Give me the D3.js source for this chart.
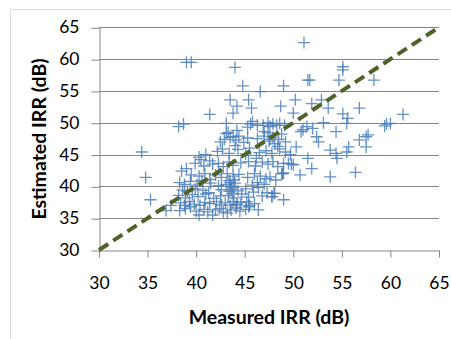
<!DOCTYPE html>
<html>
<head>
<meta charset="utf-8">
<script src="https://cdn.jsdelivr.net/npm/d3@7"></script>
<style>
  html, body { margin: 0; padding: 0; background: #fff; }
  svg { display: block; }
</style>
</head>
<body>
<div id="chart"></div>
<script>
// [measured IRR (dB), estimated IRR (dB)]
const sparsePoints = [
  [34.4, 45.4], [34.8, 41.4], [35.3, 37.9], [36.9, 36.2], [37.4, 37.0],
  [39.0, 59.5], [39.5, 59.5], [38.2, 49.4], [38.7, 49.8], [41.4, 51.3],
  [44.0, 58.7], [44.8, 55.8], [43.5, 53.6], [44.2, 52.6], [45.4, 53.6],
  [45.7, 52.3], [46.6, 54.9], [49.0, 55.8], [48.7, 52.6], [50.2, 53.6],
  [50.0, 51.5], [51.1, 62.6], [51.5, 56.7], [51.7, 56.7], [51.9, 53.0],
  [52.9, 53.6], [53.6, 52.3], [54.7, 56.7], [55.1, 58.8], [55.1, 58.3],
  [58.3, 56.7], [56.8, 52.3], [55.1, 51.4], [55.6, 50.7], [55.5, 49.9],
  [61.3, 51.3], [59.6, 49.8], [60.0, 49.9], [59.4, 49.5], [56.8, 47.3],
  [57.5, 47.8], [57.7, 48.1], [57.5, 46.2], [55.7, 46.2], [55.5, 45.4],
  [54.4, 45.2], [54.5, 44.4], [53.8, 45.7], [56.4, 42.2], [53.8, 41.5],
  [54.4, 48.6], [53.1, 50.0], [52.4, 47.8], [52.6, 47.0], [52.0, 49.1],
  [51.4, 49.4], [50.8, 48.6], [51.0, 48.9], [51.9, 42.8], [51.5, 44.4],
  [50.7, 41.8], [50.3, 46.2], [43.8, 51.5], [43.1, 49.9]
];
const upperCluster = [
  [45.6, 49.8], [45.3, 49.3], [45.8, 50.2], [46.3, 49.6], [46.9, 49.6],
  [47.4, 50.0], [47.6, 49.4], [47.9, 49.8], [48.3, 49.6], [48.6, 49.9],
  [49.1, 49.6], [43.5, 47.7], [44.1, 47.3], [44.4, 47.9], [44.9, 46.9],
  [45.3, 47.6], [46.3, 47.5], [47.0, 47.9], [47.5, 47.1], [48.5, 47.4],
  [48.8, 48.2], [49.2, 47.0], [42.5, 47.0], [43.1, 48.3], [42.2, 45.5],
  [42.7, 45.9], [43.4, 45.2], [44.3, 45.8], [45.1, 45.1], [45.5, 46.0],
  [46.5, 45.3], [47.2, 45.6], [47.8, 45.2], [48.6, 45.9], [49.2, 45.4],
  [49.7, 45.0], [47.0, 48.6], [47.4, 48.4], [47.6, 47.4], [48.1, 46.7],
  [48.4, 46.3], [47.9, 47.7], [44.0, 46.4], [43.8, 47.8], [44.2, 48.8],
  [43.3, 48.5], [42.9, 47.4], [40.3, 44.6], [41.0, 45.0], [40.8, 43.2],
  [39.9, 43.6], [40.5, 44.2], [41.4, 44.0], [41.7, 43.5], [42.3, 43.6],
  [42.8, 43.1], [43.4, 43.8], [43.8, 43.3], [44.6, 43.7], [45.4, 43.9],
  [46.1, 43.2], [46.8, 43.8], [47.4, 43.5], [47.9, 43.9], [48.4, 43.1],
  [49.0, 43.6], [49.8, 43.5], [50.0, 43.4], [49.5, 43.6], [46.2, 44.4]
];
const middleCluster = [
  [38.5, 42.4], [39.0, 42.8], [39.5, 41.8], [40.3, 41.6], [40.9, 42.0],
  [41.4, 41.1], [42.0, 41.8], [42.6, 41.4], [43.2, 42.0], [43.8, 41.6],
  [44.4, 41.9], [45.3, 41.4], [46.0, 42.0], [46.6, 41.6], [47.2, 41.2],
  [47.6, 41.5], [48.2, 41.0], [48.9, 42.0], [49.0, 42.1], [48.8, 42.0],
  [38.3, 40.6], [38.8, 40.3], [39.4, 40.8], [40.1, 40.2], [40.6, 40.9],
  [41.5, 40.5], [42.3, 40.1], [43.1, 40.3], [43.6, 40.0], [44.0, 40.5],
  [45.8, 40.2], [46.3, 40.6], [47.0, 40.3], [43.5, 40.6], [43.4, 40.9],
  [43.9, 41.0], [38.6, 39.4], [39.1, 39.2], [39.9, 39.6], [40.7, 39.4],
  [41.3, 39.0], [42.6, 39.5], [43.4, 39.2], [43.8, 39.8], [44.3, 39.3],
  [45.1, 39.6], [45.9, 39.1], [46.4, 39.8], [47.3, 39.0], [43.6, 39.5],
  [43.7, 38.9], [38.2, 38.6], [38.9, 38.2], [39.6, 38.7], [40.2, 38.4],
  [41.0, 38.8], [41.8, 38.1], [42.5, 38.5], [43.3, 38.6], [43.9, 38.2],
  [44.7, 38.8], [45.4, 38.3], [46.8, 38.5], [47.8, 38.4], [48.1, 38.9],
  [49.0, 37.9], [48.0, 38.9], [47.8, 38.4]
];
const lowerCluster = [
  [38.4, 37.4], [38.8, 37.0], [39.3, 37.6], [39.8, 37.2], [40.4, 37.0],
  [40.9, 37.5], [41.4, 37.3], [42.1, 37.6], [42.6, 37.1], [43.0, 37.4],
  [43.5, 37.0], [43.8, 37.6], [44.2, 37.2], [44.6, 37.5], [45.2, 37.6],
  [45.5, 37.0], [46.0, 37.3], [45.4, 36.8], [44.2, 37.1], [38.3, 36.2],
  [38.9, 36.5], [39.4, 36.8], [40.0, 36.1], [40.3, 35.5], [40.8, 36.4],
  [41.2, 36.0], [41.7, 35.5], [42.0, 36.3], [42.4, 36.5], [42.8, 36.0],
  [43.2, 35.8], [43.6, 36.3], [44.1, 36.6], [44.5, 36.1], [45.1, 36.4],
  [46.4, 36.3]
];
const points = [...sparsePoints, ...upperCluster, ...middleCluster, ...lowerCluster];
const axisTicks = [30, 35, 40, 45, 50, 55, 60, 65];
const refLine = [[30, 30], [65, 65]];

const W = 451, H = 339;
const svg = d3.select('#chart').append('svg')
  .attr('width', W).attr('height', H)
  .style('font-family', 'Lato, "Open Sans", sans-serif');

svg.append('rect').attr('width', W).attr('height', H).attr('fill', '#fff');
// chart area border (cropped)
svg.append('path')
  .attr('d', `M10.5,${H}V9.5H${W}`)
  .attr('fill', 'none').attr('stroke', '#d9d9d9');

const x = d3.scaleLinear().domain([30, 65]).range([99, 439]);
const y = d3.scaleLinear().domain([30, 65]).range([250, 27.3]);

// gridlines
svg.append('g')
  .selectAll('line')
  .data(axisTicks.slice(1))
  .enter().append('line')
  .attr('x1', x(30)).attr('x2', x(65))
  .attr('y1', d => Math.round(y(d)) + 0.5).attr('y2', d => Math.round(y(d)) + 0.5)
  .attr('stroke', '#868686');

// axes
const yAxis = svg.append('g')
  .attr('transform', 'translate(99.5,0)')
  .call(d3.axisLeft(y).tickValues(axisTicks).tickSize(8).tickSizeOuter(0).tickPadding(12));
const xAxis = svg.append('g')
  .attr('transform', 'translate(0,250.5)')
  .call(d3.axisBottom(x).tickValues(axisTicks).tickSize(7).tickSizeOuter(0).tickPadding(19));
[yAxis, xAxis].forEach(a => {
  a.selectAll('path, line').attr('stroke', '#868686');
  a.selectAll('text').attr('font-size', 17.5).attr('fill', '#000')
    .attr('font-family', 'Lato, "Open Sans", sans-serif');
});
yAxis.selectAll('.tick line').attr('transform', 'translate(0,0.5)');

// markers
svg.append('g')
  .selectAll('path')
  .data(points)
  .enter().append('path')
  .attr('transform', d => `translate(${x(d[0])},${y(d[1])})`)
  .attr('d', 'M-6,0H6M0,-6V6')
  .attr('stroke', '#4a7ebb')
  .attr('stroke-opacity', 0.85)
  .attr('stroke-width', 1.3)
  .attr('fill', 'none');

// reference line y = x
svg.append('path')
  .datum(refLine)
  .attr('d', d3.line().x(d => x(d[0])).y(d => y(d[1])))
  .attr('stroke', '#4f6228')
  .attr('stroke-width', 4)
  .attr('stroke-dasharray', '11,6')
  .attr('fill', 'none');

// titles
svg.append('text')
  .attr('x', 269).attr('y', 324)
  .attr('text-anchor', 'middle')
  .attr('font-size', 19.5).attr('font-weight', 'bold')
  .text('Measured IRR (dB)');
svg.append('text')
  .attr('transform', 'translate(46,139) rotate(-90)')
  .attr('text-anchor', 'middle')
  .attr('font-size', 19.5).attr('font-weight', 'bold')
  .text('Estimated IRR (dB)');
</script>
</body>
</html>
